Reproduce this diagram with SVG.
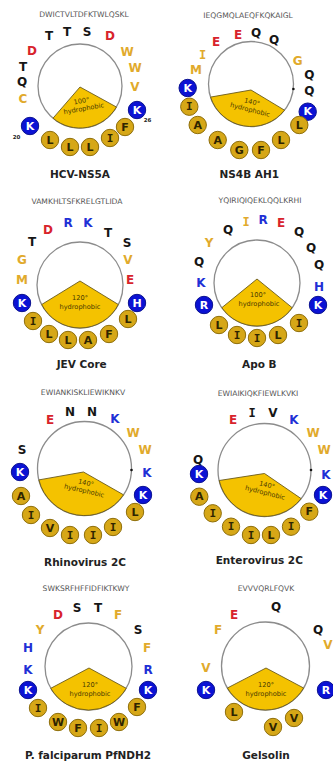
<svg xmlns="http://www.w3.org/2000/svg" width="333" height="765" viewBox="0 0 333 765">
<style>
  .seq{font-family:"DejaVu Sans","Liberation Sans",sans-serif;font-size:7.6px;fill:#555;text-anchor:middle}
  .ttl{font-family:"DejaVu Sans","Liberation Sans",sans-serif;font-size:10.5px;font-weight:bold;fill:#222;text-anchor:middle}
  .aa{font-family:"DejaVu Sans","Liberation Sans",sans-serif;font-size:12px;font-weight:bold;text-anchor:middle;dominant-baseline:central}
  .k{fill:#161616}.r{fill:#d8232c}.y{fill:#e1aa2c}.b{fill:#1f30d6}
  .ball{font-family:"DejaVu Sans","Liberation Sans",sans-serif;font-size:11px;font-weight:bold;text-anchor:middle;dominant-baseline:central}
  .ser{font-family:"DejaVu Sans Mono","Liberation Mono",monospace}
  .hb{fill:#d6a717;stroke:#8e6e0a;stroke-width:1}
  .pb{fill:#0b12d4;stroke:#0a1190;stroke-width:1}
  .hl{fill:#2e2400}.wl{fill:#fff}
  .helix{fill:#fff;stroke:#8c8c8c;stroke-width:1.3}
  .wedge{fill:#f4c200;stroke:#6a5a1c;stroke-width:0.9}
  .wt{font-family:"DejaVu Sans","Liberation Sans",sans-serif;font-size:6.6px;fill:#4a3a00;text-anchor:middle}
  .num{font-family:"DejaVu Sans","Liberation Sans",sans-serif;font-size:5.5px;font-weight:bold;fill:#222;text-anchor:middle}
  .tick{fill:#111}
</style>
<defs>
  <circle id="b" r="8.7"/>
</defs>

<!-- HCV-NS5A -->
<g id="wheel-hcv-ns5a">
  <text class="seq" x="84" y="17">DWICTVLTDFKTWLQSKL</text>
  <circle class="helix" cx="80" cy="86" r="42"/>
  <path class="wedge" d="M80,87 L53,118.2 A42,42 0 0 0 116.4,107 Z"/>
  <g transform="rotate(-10 82 104)">
    <text class="wt" x="82" y="103">100°</text>
    <text class="wt" x="83" y="111">hydrophobic</text>
  </g>
  <text class="aa k" x="49" y="36">T</text>
  <text class="aa k" x="67" y="32">T</text>
  <text class="aa k" x="87" y="32">S</text>
  <text class="aa r" x="110" y="36">D</text>
  <text class="aa r" x="32" y="51">D</text>
  <text class="aa y" x="127" y="52">W</text>
  <text class="aa k" x="23" y="67">T</text>
  <text class="aa y" x="135" y="68">W</text>
  <text class="aa k" x="22" y="82">Q</text>
  <text class="aa y" x="135" y="87">V</text>
  <text class="aa y" x="23" y="99">C</text>
  <use href="#b" class="pb" x="137" y="110"/><text class="ball wl" x="137" y="110">K</text>
  <use href="#b" class="pb" x="30" y="126"/><text class="ball wl" x="30" y="126">K</text>
  <use href="#b" class="hb" x="125" y="127"/><text class="ball hl" x="125" y="127">F</text>
  <use href="#b" class="hb" x="110" y="138"/><text class="ball hl ser" x="110" y="138">I</text>
  <use href="#b" class="hb" x="90" y="147"/><text class="ball hl" x="90" y="147">L</text>
  <use href="#b" class="hb" x="70" y="147"/><text class="ball hl" x="70" y="147">L</text>
  <use href="#b" class="hb" x="50" y="140"/><text class="ball hl" x="50" y="140">L</text>
  <text class="num" x="147.5" y="122">26</text>
  <text class="num" x="16.5" y="139">20</text>
  <text class="ttl" x="80" y="177.5">HCV-NS5A</text>
</g>

<!-- NS4B AH1 -->
<g id="wheel-ns4b-ah1">
  <text class="seq" x="248" y="17.5">IEQGMQLAEQFKQKAIGL</text>
  <circle class="helix" cx="251" cy="84" r="42.5"/>
  <path class="wedge" d="M251,90 L210.6,97.1 A42.5,42.5 0 0 0 284.5,110.2 Z"/>
  <g transform="rotate(14 251 106)">
    <text class="wt" x="251" y="104">140°</text>
    <text class="wt" x="251" y="112">hydrophobic</text>
  </g>
  <circle class="tick" cx="293.4" cy="89" r="1.3"/>
  <text class="aa r" x="216" y="42">E</text>
  <text class="aa r" x="238" y="35">E</text>
  <text class="aa k" x="256" y="33">Q</text>
  <text class="aa k" x="274" y="40">Q</text>
  <text class="aa y" x="297.7" y="61">G</text>
  <text class="aa k" x="309.3" y="75">Q</text>
  <text class="aa k" x="309.3" y="91">Q</text>
  <text class="aa y ser" x="202.7" y="55">I</text>
  <text class="aa y" x="196" y="70">M</text>
  <use href="#b" class="pb" x="307.7" y="111.7"/><text class="ball wl" x="307.7" y="111.7">K</text>
  <use href="#b" class="pb" x="187.7" y="88"/><text class="ball wl" x="187.7" y="88">K</text>
  <use href="#b" class="hb" x="189.3" y="106.7"/><text class="ball hl ser" x="189.3" y="106.7">I</text>
  <use href="#b" class="hb" x="197.7" y="125"/><text class="ball hl" x="197.7" y="125">A</text>
  <use href="#b" class="hb" x="217.7" y="140"/><text class="ball hl" x="217.7" y="140">A</text>
  <use href="#b" class="hb" x="239.3" y="150"/><text class="ball hl" x="239.3" y="150">G</text>
  <use href="#b" class="hb" x="261" y="150"/><text class="ball hl" x="261" y="150">F</text>
  <use href="#b" class="hb" x="281" y="140"/><text class="ball hl" x="281" y="140">L</text>
  <use href="#b" class="hb" x="299.3" y="125"/><text class="ball hl" x="299.3" y="125">L</text>
  <text class="ttl" x="249.3" y="177.5">NS4B AH1</text>
</g>

<!-- JEV Core -->
<g id="wheel-jev-core">
  <text class="seq" x="77" y="204">VAMKHLTSFKRELGTLIDA</text>
  <circle class="helix" cx="80" cy="285" r="43"/>
  <path class="wedge" d="M80,281 L41.7,304.5 A43,43 0 0 0 118.3,304.5 Z"/>
  <text class="wt" x="80" y="300">120°</text>
  <text class="wt" x="80" y="308.5">hydrophobic</text>
  <text class="aa k" x="32" y="242">T</text>
  <text class="aa r" x="48" y="230">D</text>
  <text class="aa b" x="68" y="223">R</text>
  <text class="aa b" x="88" y="223">K</text>
  <text class="aa k" x="108" y="233">T</text>
  <text class="aa k" x="127" y="243">S</text>
  <text class="aa y" x="22" y="260">G</text>
  <text class="aa y" x="128" y="260">V</text>
  <text class="aa y" x="22" y="280">M</text>
  <text class="aa r" x="130" y="280">E</text>
  <use href="#b" class="pb" x="22" y="303"/><text class="ball wl" x="22" y="303">K</text>
  <use href="#b" class="pb" x="137" y="303"/><text class="ball wl" x="137" y="303">H</text>
  <use href="#b" class="hb" x="33" y="321"/><text class="ball hl ser" x="33" y="321">I</text>
  <use href="#b" class="hb" x="49" y="334"/><text class="ball hl" x="49" y="334">L</text>
  <use href="#b" class="hb" x="68" y="340"/><text class="ball hl" x="68" y="340">L</text>
  <use href="#b" class="hb" x="88" y="340"/><text class="ball hl" x="88" y="340">A</text>
  <use href="#b" class="hb" x="109" y="334"/><text class="ball hl" x="109" y="334">F</text>
  <use href="#b" class="hb" x="128" y="319"/><text class="ball hl" x="128" y="319">L</text>
  <text class="ttl" x="81.7" y="367.5">JEV Core</text>
</g>

<!-- Apo B -->
<g id="wheel-apo-b">
  <text class="seq" x="260" y="202.5">YQIRIQIQEKLQQLKRHI</text>
  <circle class="helix" cx="257" cy="283" r="43"/>
  <path class="wedge" d="M257,279 L221.8,307.7 A43,43 0 0 0 292.2,307.7 Z"/>
  <text class="wt" x="258" y="297">100°</text>
  <text class="wt" x="259" y="305.5">hydrophobic</text>
  <text class="aa k" x="228" y="230">Q</text>
  <text class="aa y ser" x="246" y="222">I</text>
  <text class="aa b" x="263" y="220">R</text>
  <text class="aa r" x="281" y="223">E</text>
  <text class="aa k" x="299" y="232">Q</text>
  <text class="aa k" x="311" y="248">Q</text>
  <text class="aa k" x="319" y="265">Q</text>
  <text class="aa b" x="319" y="287">H</text>
  <text class="aa y" x="209" y="243">Y</text>
  <text class="aa k" x="199" y="262">Q</text>
  <text class="aa b" x="201" y="283">K</text>
  <use href="#b" class="pb" x="318" y="305"/><text class="ball wl" x="318" y="305">K</text>
  <use href="#b" class="pb" x="204" y="305"/><text class="ball wl" x="204" y="305">R</text>
  <use href="#b" class="hb" x="219" y="325"/><text class="ball hl" x="219" y="325">L</text>
  <use href="#b" class="hb" x="237" y="335"/><text class="ball hl ser" x="237" y="335">I</text>
  <use href="#b" class="hb" x="257" y="338"/><text class="ball hl ser" x="257" y="338">I</text>
  <use href="#b" class="hb" x="278" y="335"/><text class="ball hl" x="278" y="335">L</text>
  <use href="#b" class="hb" x="299" y="323"/><text class="ball hl ser" x="299" y="323">I</text>
  <text class="ttl" x="259.3" y="367.5">Apo B</text>
</g>

<!-- Rhinovirus 2C -->
<g id="wheel-rhinovirus-2c">
  <text class="seq" x="83" y="395">EWIANKISKLIEWIKNKV</text>
  <circle class="helix" cx="84.5" cy="468.5" r="47"/>
  <path class="wedge" d="M83.5,472 L38.9,479.9 A47,47 0 0 0 123.5,494.8 Z"/>
  <g transform="rotate(13 85 487)">
    <text class="wt" x="85" y="485">140°</text>
    <text class="wt" x="85" y="493">hydrophobic</text>
  </g>
  <circle class="tick" cx="131.5" cy="470" r="1.3"/>
  <text class="aa r" x="50" y="420">E</text>
  <text class="aa k" x="70" y="412">N</text>
  <text class="aa k" x="92" y="412">N</text>
  <text class="aa b" x="115" y="419">K</text>
  <text class="aa y" x="133" y="433">W</text>
  <text class="aa y" x="145" y="450">W</text>
  <text class="aa b" x="147" y="473">K</text>
  <text class="aa k" x="22" y="450">S</text>
  <use href="#b" class="pb" x="143" y="495"/><text class="ball wl" x="143" y="495">K</text>
  <use href="#b" class="pb" x="20" y="472"/><text class="ball wl" x="20" y="472">K</text>
  <use href="#b" class="hb" x="21" y="496"/><text class="ball hl" x="21" y="496">A</text>
  <use href="#b" class="hb" x="31" y="515"/><text class="ball hl ser" x="31" y="515">I</text>
  <use href="#b" class="hb" x="50" y="528"/><text class="ball hl" x="50" y="528">V</text>
  <use href="#b" class="hb" x="70" y="535"/><text class="ball hl ser" x="70" y="535">I</text>
  <use href="#b" class="hb" x="93" y="535"/><text class="ball hl ser" x="93" y="535">I</text>
  <use href="#b" class="hb" x="113" y="527"/><text class="ball hl ser" x="113" y="527">I</text>
  <use href="#b" class="hb" x="135" y="512"/><text class="ball hl" x="135" y="512">L</text>
  <text class="ttl" x="85" y="566">Rhinovirus 2C</text>
</g>

<!-- Enterovirus 2C -->
<g id="wheel-enterovirus-2c">
  <text class="seq" x="258" y="396">EWIAIKIQKFIEWLKVKI</text>
  <circle class="helix" cx="264.5" cy="470" r="46.5"/>
  <path class="wedge" d="M264.5,473.5 L219.2,480.5 A46.5,46.5 0 0 0 301.1,498.6 Z"/>
  <g transform="rotate(14 266 489)">
    <text class="wt" x="266" y="487">140°</text>
    <text class="wt" x="266" y="495">hydrophobic</text>
  </g>
  <circle class="tick" cx="311" cy="470" r="1.3"/>
  <text class="aa r" x="233" y="420">E</text>
  <text class="aa k ser" x="252" y="413">I</text>
  <text class="aa k" x="273" y="413">V</text>
  <text class="aa b" x="294" y="420">K</text>
  <text class="aa y" x="313" y="433">W</text>
  <text class="aa y" x="324" y="450">W</text>
  <text class="aa b" x="326" y="475">K</text>
  <text class="aa k" x="198" y="460">Q</text>
  <use href="#b" class="pb" x="323" y="495"/><text class="ball wl" x="323" y="495">K</text>
  <use href="#b" class="pb" x="199" y="474"/><text class="ball wl" x="199" y="474">K</text>
  <use href="#b" class="hb" x="199.3" y="496.7"/><text class="ball hl" x="199.3" y="496.7">A</text>
  <use href="#b" class="hb" x="212.7" y="513.3"/><text class="ball hl ser" x="212.7" y="513.3">I</text>
  <use href="#b" class="hb" x="231" y="526.7"/><text class="ball hl ser" x="231" y="526.7">I</text>
  <use href="#b" class="hb" x="251" y="535"/><text class="ball hl ser" x="251" y="535">I</text>
  <use href="#b" class="hb" x="271" y="535"/><text class="ball hl" x="271" y="535">L</text>
  <use href="#b" class="hb" x="291" y="526.7"/><text class="ball hl ser" x="291" y="526.7">I</text>
  <use href="#b" class="hb" x="309.3" y="511.7"/><text class="ball hl" x="309.3" y="511.7">F</text>
  <text class="ttl" x="259.3" y="564">Enterovirus 2C</text>
</g>

<!-- P. falciparum PfNDH2 -->
<g id="wheel-pfndh2">
  <text class="seq" x="86" y="590.5">SWKSRFHFFIDFIKTKWY</text>
  <circle class="helix" cx="88.5" cy="666.5" r="43.5"/>
  <path class="wedge" d="M89,668 L50.8,688.3 A43.5,43.5 0 0 0 126.2,688.3 Z"/>
  <text class="wt" x="90" y="687">120°</text>
  <text class="wt" x="90" y="695.5">hydrophobic</text>
  <text class="aa r" x="58" y="615">D</text>
  <text class="aa k" x="77" y="608">S</text>
  <text class="aa k" x="98" y="608">T</text>
  <text class="aa y" x="118" y="615">F</text>
  <text class="aa y" x="40" y="630">Y</text>
  <text class="aa k" x="138" y="630">S</text>
  <text class="aa b" x="28" y="648">H</text>
  <text class="aa y" x="147" y="648">F</text>
  <text class="aa b" x="28" y="670">K</text>
  <text class="aa b" x="148" y="670">R</text>
  <use href="#b" class="pb" x="28" y="690"/><text class="ball wl" x="28" y="690">K</text>
  <use href="#b" class="pb" x="148" y="690"/><text class="ball wl" x="148" y="690">K</text>
  <use href="#b" class="hb" x="38" y="708"/><text class="ball hl ser" x="38" y="708">I</text>
  <use href="#b" class="hb" x="58" y="722"/><text class="ball hl" x="58" y="722">W</text>
  <use href="#b" class="hb" x="78" y="728"/><text class="ball hl" x="78" y="728">F</text>
  <use href="#b" class="hb" x="99" y="728"/><text class="ball hl ser" x="99" y="728">I</text>
  <use href="#b" class="hb" x="119" y="722"/><text class="ball hl" x="119" y="722">W</text>
  <use href="#b" class="hb" x="137" y="707"/><text class="ball hl" x="137" y="707">F</text>
  <text class="ttl" x="88" y="758.5">P. falciparum PfNDH2</text>
</g>

<!-- Gelsolin -->
<g id="wheel-gelsolin">
  <text class="seq" x="266" y="591">EVVVQRLFQVK</text>
  <circle class="helix" cx="265.5" cy="666" r="44"/>
  <path class="wedge" d="M266,668 L227.4,688 A44,44 0 0 0 303.6,688 Z"/>
  <text class="wt" x="266" y="687">120°</text>
  <text class="wt" x="266" y="695.5">hydrophobic</text>
  <text class="aa r" x="234" y="615">E</text>
  <text class="aa k" x="276" y="607">Q</text>
  <text class="aa y" x="218" y="630">F</text>
  <text class="aa k" x="318" y="630">Q</text>
  <text class="aa y" x="328" y="645">V</text>
  <text class="aa y" x="206" y="668">V</text>
  <use href="#b" class="pb" x="206" y="690"/><text class="ball wl" x="206" y="690">K</text>
  <use href="#b" class="pb" x="326" y="690"/><text class="ball wl" x="326" y="690">R</text>
  <use href="#b" class="hb" x="234" y="712"/><text class="ball hl" x="234" y="712">L</text>
  <use href="#b" class="hb" x="273" y="727"/><text class="ball hl" x="273" y="727">V</text>
  <use href="#b" class="hb" x="294" y="718"/><text class="ball hl" x="294" y="718">V</text>
  <text class="ttl" x="266" y="759">Gelsolin</text>
</g>

<!-- no connectors between wheels -->
<g id="connectors"/>
</svg>
